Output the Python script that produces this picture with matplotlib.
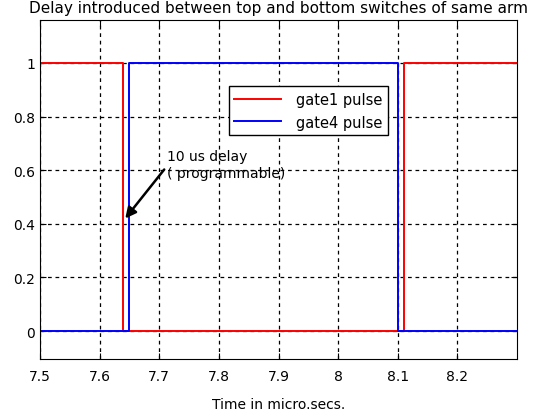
import matplotlib.pyplot as plt

# pulse edges (micro-seconds)
t_gate1 = [7.5, 7.64, 8.11, 8.3]
v_gate1 = [1, 0, 1, 1]
t_gate4 = [7.5, 7.65, 8.10, 8.3]
v_gate4 = [0, 1, 0, 0]

xticks = [7.5, 7.6, 7.7, 7.8, 7.9, 8.0, 8.1, 8.2]
xlabels = ['7.5', '7.6', '7.7', '7.8', '7.9', '8', '8.1', '8.2']
yticks = [0, 0.2, 0.4, 0.6, 0.8, 1]
ylabels = ['0', '0.2', '0.4', '0.6', '0.8', '1']

plt.rcParams['font.family'] = ['DejaVu Sans']

fig = plt.figure(figsize=(5.44, 4.14), dpi=100)
ax = fig.add_axes([0.0735, 0.130, 0.877, 0.819])

ax.plot(t_gate1, v_gate1, color='red', lw=1.4, drawstyle='steps-post', label='gate1 pulse')
ax.plot(t_gate4, v_gate4, color='blue', lw=1.4, drawstyle='steps-post', label='gate4 pulse')

ax.set_xlim(7.5, 8.3)
ax.set_ylim(-0.105, 1.16)
ax.set_xticks(xticks)
ax.set_xticklabels(xlabels)
ax.set_yticks(yticks)
ax.set_yticklabels(ylabels)
ax.tick_params(direction='in', top=True, right=True, labelsize=10, length=4)
ax.tick_params(axis='x', pad=7)
ax.grid(True, color='black', linestyle=(0, (3, 3)), lw=0.9)

ax.set_title('Delay introduced between top and bottom switches of same arm', fontsize=11, pad=6)
ax.set_xlabel('Time in micro.secs.', fontsize=10, labelpad=10)

ax.legend(loc='upper left', bbox_to_anchor=(0.38, 0.826), fancybox=False, framealpha=1,
          edgecolor='black', fontsize=10.5, handlelength=3.2, borderpad=0.4,
          handletextpad=1.0)

ax.annotate('10 us delay\n( programmable)', xy=(7.643, 0.42), xytext=(7.713, 0.565),
            fontsize=10, ha='left', va='bottom',
            arrowprops=dict(arrowstyle='-|>', color='black', lw=1.8, mutation_scale=16,
                            shrinkA=0, shrinkB=0, relpos=(0, 0.45)))

plt.savefig('out.png', dpi=100)
